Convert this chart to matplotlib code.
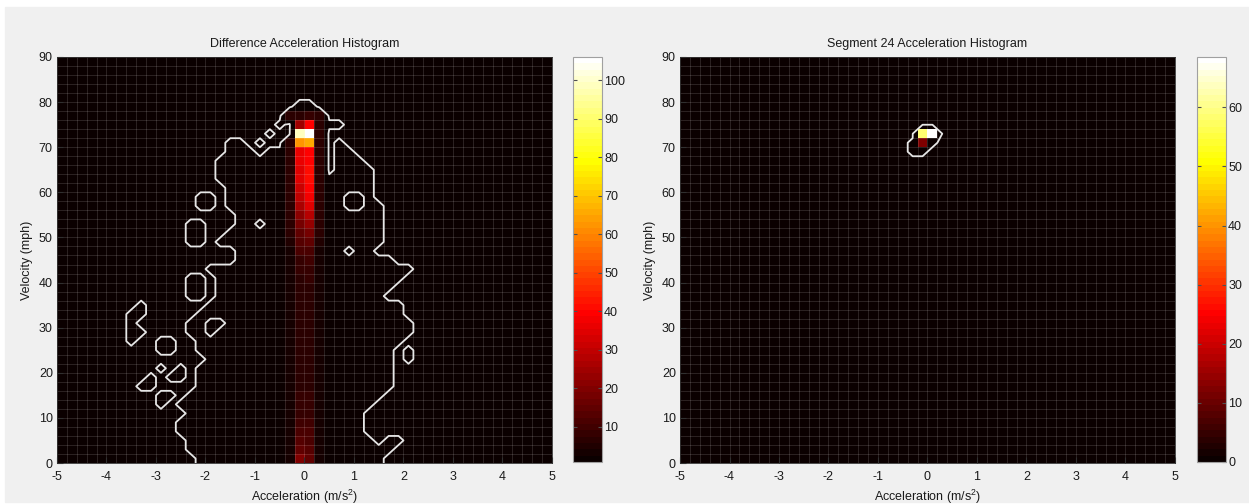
import numpy as np
import matplotlib.pyplot as plt
from matplotlib.colors import Normalize
from matplotlib.patches import Rectangle

plt.rcParams['font.family'] = ['Liberation Sans', 'DejaVu Sans']
plt.rcParams['font.size'] = 9
plt.rcParams['axes.unicode_minus'] = False
plt.rcParams['mathtext.fontset'] = 'custom'
plt.rcParams['mathtext.rm'] = 'Liberation Sans'
plt.rcParams['mathtext.it'] = 'Liberation Sans'

# histogram bins: acceleration (m/s^2) and velocity (mph)
acc_step = 0.2
vel_step = 2.0
acc_edges = np.arange(-5, 5 + acc_step / 2, acc_step)
vel_edges = np.arange(0, 90 + vel_step / 2, vel_step)

# cells holding at least one sample in the difference histogram
# (velocity bin start, [(acc from, acc to), ...])
diff_spans = [
    (78, [(-0.2, 0.2)]),
    (76, [(-0.4, 0.4)]),
    (74, [(-0.6, -0.4), (-0.2, 0.8)]),
    (72, [(-0.8, -0.6), (-0.2, 0.4)]),
    (70, [(-1.6, -1.2), (-1.0, -0.8), (-0.4, 0.4), (0.6, 0.8)]),
    (68, [(-1.6, -1.0), (-0.8, 0.4), (0.6, 1.0)]),
    (66, [(-1.8, 0.4), (0.6, 1.2)]),
    (64, [(-1.8, 0.4), (0.6, 1.4)]),
    (62, [(-1.8, 1.4)]),
    (60, [(-1.6, 1.4)]),
    (58, [(-2.2, -1.8), (-1.6, 0.8), (1.2, 1.4)]),
    (56, [(-2.2, -1.8), (-1.6, 0.8), (1.2, 1.6)]),
    (54, [(-1.4, 1.6)]),
    (52, [(-2.4, -2.0), (-1.4, -1.0), (-0.8, 1.6)]),
    (50, [(-2.4, -2.0), (-1.6, 1.6)]),
    (48, [(-2.4, -2.0), (-1.8, 1.6)]),
    (46, [(-1.4, 0.8), (1.0, 1.4)]),
    (44, [(-1.4, 1.8)]),
    (42, [(-2.0, 2.2)]),
    (40, [(-2.4, -2.0), (-1.8, 2.0)]),
    (38, [(-2.4, -2.0), (-1.8, 1.8)]),
    (36, [(-2.4, -2.0), (-1.8, 1.6)]),
    (34, [(-3.4, -3.2), (-2.0, 2.0)]),
    (32, [(-3.6, -3.2), (-2.2, 2.0)]),
    (30, [(-3.6, -3.4), (-2.4, -2.0), (-1.6, 2.2)]),
    (28, [(-3.6, -3.2), (-2.4, -2.0), (-1.8, 2.2)]),
    (26, [(-3.6, -3.4), (-3.0, -2.6), (-2.2, 2.0)]),
    (24, [(-3.0, -2.6), (-2.2, 1.8), (2.0, 2.2)]),
    (22, [(-2.0, 1.8), (2.0, 2.2)]),
    (20, [(-3.0, -2.8), (-2.6, -2.4), (-2.2, 1.8)]),
    (18, [(-3.2, -3.0), (-2.8, -2.4), (-2.2, 1.8)]),
    (16, [(-3.4, -3.0), (-2.2, 1.8)]),
    (14, [(-3.0, -2.6), (-2.4, 1.6)]),
    (12, [(-3.0, -2.8), (-2.6, 1.4)]),
    (10, [(-2.4, 1.2)]),
    (8, [(-2.6, 1.2)]),
    (6, [(-2.6, 1.2)]),
    (4, [(-2.4, 1.4), (1.6, 2.0)]),
    (2, [(-2.4, 1.8)]),
    (0, [(-2.2, 1.6)]),
]

# counts per velocity bin (0, 2, 4 ... 78 mph) in the columns around zero acceleration
diff_core_left = [19, 14, 13, 11, 10, 9, 8, 8, 7, 7,
                  6, 6, 6, 6, 6, 6, 6, 6, 6, 6,
                  7, 8, 9, 11, 13, 15, 18, 22, 26, 29,
                  31, 34, 35, 36, 36, 62, 99, 24, 7, 2]
diff_core_right = [14, 13, 12, 11, 10, 9, 8, 8, 7, 7,
                   7, 7, 6, 6, 6, 6, 6, 7, 7, 7,
                   8, 9, 10, 12, 15, 18, 23, 28, 35, 38,
                   40, 41, 41, 40, 40, 66, 106, 40, 8, 2]
diff_side_left = [3, 3, 3, 3, 3, 3, 3, 3, 3, 3,
                  3, 3, 3, 3, 3, 3, 3, 3, 3, 3,
                  3, 3, 3, 4, 5, 6, 7, 7, 7, 7,
                  7, 7, 7, 7, 7, 7, 0, 0, 6, 0]
diff_side_right = [3, 3, 3, 3, 3, 3, 3, 3, 3, 3,
                   3, 3, 3, 3, 3, 3, 3, 3, 3, 3,
                   3, 3, 3, 4, 5, 6, 7, 7, 7, 7,
                   7, 7, 7, 7, 7, 7, 6, 6, 6, 0]

# segment 24 histogram: (acc bin start, velocity bin start, count)
seg_acc = [-0.4, -0.2, -0.4, -0.2, 0.0, -0.2, 0.0]
seg_vel = [68, 68, 70, 70, 70, 72, 72]
seg_count = [1, 1, 1, 12, 1, 58, 68]

cmap = plt.get_cmap('hot', 64)


def acc_index(a):
    return int(round((a + 5) / acc_step))


def vel_index(v):
    return int(round(v / vel_step))


def build_diff():
    H = np.zeros((len(vel_edges) - 1, len(acc_edges) - 1))
    for v0, spans in diff_spans:
        j = vel_index(v0)
        for a0, a1 in spans:
            H[j, acc_index(a0):acc_index(a1)] = 1
    n = len(diff_core_left)
    for a0, vals in ((-0.4, diff_side_left), (-0.2, diff_core_left),
                     (0.0, diff_core_right), (0.2, diff_side_right)):
        i = acc_index(a0)
        H[:n, i] = np.maximum(H[:n, i], vals)
    return H


def build_segment():
    H = np.zeros((len(vel_edges) - 1, len(acc_edges) - 1))
    for a0, v0, c in zip(seg_acc, seg_vel, seg_count):
        H[vel_index(v0), acc_index(a0)] = c
    return H


def draw_panel(fig, rect, cbar_rect, H, vmin, vmax, cticks, title):
    ax = fig.add_axes(rect)
    cax = fig.add_axes(cbar_rect)
    mesh = ax.pcolormesh(acc_edges, vel_edges, H, cmap=cmap,
                         norm=Normalize(vmin, vmax))

    # outline of occupied cells, padded one row below so lines run to 0 mph
    xc = (acc_edges[:-1] + acc_edges[1:]) / 2
    yc = (vel_edges[:-1] + vel_edges[1:]) / 2
    Hp = np.vstack([H[:1], H])
    ycp = np.concatenate([[yc[0] - vel_step], yc])
    ax.contour(xc, ycp, Hp, levels=[0.5], colors='#e6e6e6', linewidths=1.3)

    ax.set_xlim(-5, 5)
    ax.set_ylim(0, 90)
    ax.set_xticks(np.arange(-5, 6, 1))
    ax.set_yticks(np.arange(0, 91, 10))
    ax.set_xticks(acc_edges, minor=True)
    ax.set_yticks(vel_edges, minor=True)
    ax.grid(which='both', color='white', alpha=0.16, linewidth=0.6)
    ax.tick_params(which='minor', length=0)
    ax.tick_params(which='major', direction='in', length=4, color='#303030',
                   labelsize=9, labelcolor='#1a1a1a')
    ax.tick_params(axis='x', pad=5.5)
    ax.tick_params(axis='y', pad=3)
    for s in ax.spines.values():
        s.set_color('#303030')
        s.set_linewidth(0.6)
    ax.set_title(title, fontsize=9, pad=7, color='#1a1a1a')
    ax.set_xlabel('Acceleration (m/s$^2$)', fontsize=9, labelpad=3.5, color='#1a1a1a')
    ax.set_ylabel('Velocity (mph)', fontsize=9, labelpad=4, color='#1a1a1a')

    cb = fig.colorbar(mesh, cax=cax, ticks=cticks)
    cb.outline.set_edgecolor('#a0a0a0')
    cb.outline.set_linewidth(0.8)
    cax.tick_params(direction='in', length=3, left=True, right=True,
                    color='#505050', pad=1.5, labelsize=9, labelcolor='#1a1a1a')
    return ax


W, Hpx = 1249, 504
fig = plt.figure(figsize=(W / 100, Hpx / 100), dpi=100, facecolor='white')
fig.patches.append(Rectangle((5 / W, 2 / Hpx), 1, (Hpx - 9) / Hpx,
                             transform=fig.transFigure, color='#f0f0f0', zorder=-5))

diff_hist = build_diff()
seg_hist = build_segment()

draw_panel(fig, [57 / W, 41 / Hpx, 495 / W, 406 / Hpx],
           [573 / W, 42 / Hpx, 29 / W, 405 / Hpx],
           diff_hist, 0.8, 106, np.arange(10, 101, 10),
           'Difference Acceleration Histogram')
draw_panel(fig, [680 / W, 41 / Hpx, 495 / W, 406 / Hpx],
           [1197 / W, 42 / Hpx, 29 / W, 405 / Hpx],
           seg_hist, 0, 68.5, np.arange(0, 61, 10),
           'Segment 24 Acceleration Histogram')

fig.savefig('out.png', dpi=100, facecolor=fig.get_facecolor())
